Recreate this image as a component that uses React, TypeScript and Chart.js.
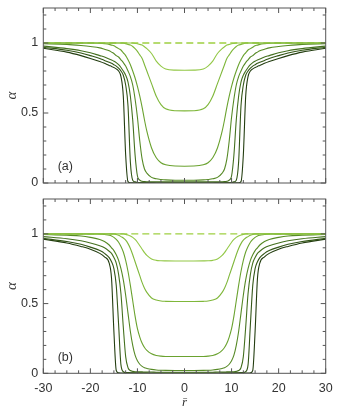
import React, { useEffect, useRef } from "react";
import { Chart, registerables } from "chart.js";
Chart.register(...registerables);

// half-profile radial grid (|r|), curves are symmetric in r
const R_HALF = [0, 2, 4, 5, 6, 7, 8, 8.5, 9, 9.5, 10, 10.5, 11, 11.5, 12, 12.5, 13, 13.5, 14, 14.5, 15, 15.5, 16, 17, 18, 20, 22, 25, 30];

// panel (a)
const A_C1 = [0.805, 0.806, 0.815, 0.835, 0.87, 0.925, 0.96, 0.973, 0.985, 0.99, 0.995, 0.997, 1, 1, 1, 1, 1, 1, 1, 1, 1, 1, 1, 1, 1, 1, 1, 1, 1];
const A_C2 = [0.515, 0.516, 0.53, 0.56, 0.62, 0.71, 0.8, 0.845, 0.89, 0.915, 0.94, 0.96, 0.975, 0.985, 0.99, 0.995, 1, 1, 1, 1, 1, 1, 1, 1, 1, 1, 1, 1, 1];
const A_C3 = [0.12, 0.121, 0.13, 0.145, 0.18, 0.25, 0.37, 0.45, 0.54, 0.62, 0.69, 0.75, 0.8, 0.845, 0.88, 0.91, 0.93, 0.95, 0.96, 0.97, 0.98, 0.985, 0.99, 0.995, 0.998, 1, 1, 1, 1];
const A_C4 = [0.02, 0.02, 0.022, 0.025, 0.03, 0.04, 0.07, 0.1, 0.17, 0.3, 0.47, 0.6, 0.7, 0.76, 0.8, 0.835, 0.86, 0.88, 0.9, 0.91, 0.925, 0.935, 0.945, 0.955, 0.965, 0.975, 0.982, 0.99, 0.995];
const A_C5 = [0.008, 0.008, 0.008, 0.008, 0.008, 0.009, 0.009, 0.01, 0.012, 0.02, 0.05, 0.2, 0.45, 0.62, 0.72, 0.77, 0.8, 0.825, 0.845, 0.86, 0.87, 0.878, 0.885, 0.9, 0.91, 0.93, 0.945, 0.96, 0.978];
const A_C6 = [0.002, 0.002, 0.002, 0.002, 0.002, 0.003, 0.003, 0.003, 0.003, 0.004, 0.004, 0.008, 0.02, 0.15, 0.55, 0.7, 0.77, 0.8, 0.82, 0.835, 0.845, 0.855, 0.862, 0.875, 0.89, 0.91, 0.928, 0.948, 0.97];
const A_C7 = [0, 0, 0, 0, 0, 0, 0, 0, 0, 0.001, 0.001, 0.001, 0.001, 0.002, 0.01, 0.2, 0.62, 0.76, 0.8, 0.815, 0.825, 0.833, 0.84, 0.855, 0.868, 0.89, 0.91, 0.935, 0.962];

// panel (b)
const B_C1 = [0.805, 0.805, 0.806, 0.807, 0.81, 0.82, 0.845, 0.865, 0.89, 0.915, 0.94, 0.96, 0.975, 0.985, 0.992, 0.996, 1, 1, 1, 1, 1, 1, 1, 1, 1, 1, 1, 1, 1];
const B_C2 = [0.515, 0.515, 0.516, 0.518, 0.525, 0.54, 0.58, 0.61, 0.65, 0.7, 0.75, 0.8, 0.85, 0.895, 0.93, 0.955, 0.97, 0.98, 0.99, 0.995, 1, 1, 1, 1, 1, 1, 1, 1, 1];
const B_C3 = [0.12, 0.12, 0.121, 0.123, 0.128, 0.14, 0.165, 0.185, 0.215, 0.26, 0.32, 0.41, 0.52, 0.63, 0.73, 0.81, 0.87, 0.91, 0.94, 0.96, 0.975, 0.985, 0.99, 0.995, 1, 1, 1, 1, 1];
const B_C4 = [0.02, 0.02, 0.021, 0.022, 0.024, 0.028, 0.035, 0.04, 0.05, 0.065, 0.09, 0.13, 0.2, 0.3, 0.43, 0.56, 0.67, 0.75, 0.81, 0.85, 0.88, 0.9, 0.92, 0.945, 0.96, 0.975, 0.985, 0.99, 0.995];
const B_C5 = [0.008, 0.008, 0.008, 0.008, 0.008, 0.009, 0.009, 0.009, 0.01, 0.01, 0.01, 0.011, 0.014, 0.02, 0.04, 0.12, 0.33, 0.57, 0.71, 0.79, 0.83, 0.86, 0.875, 0.9, 0.915, 0.935, 0.95, 0.965, 0.98];
const B_C6 = [0.002, 0.002, 0.002, 0.002, 0.002, 0.002, 0.003, 0.003, 0.003, 0.003, 0.003, 0.004, 0.004, 0.004, 0.005, 0.005, 0.012, 0.06, 0.35, 0.63, 0.75, 0.8, 0.83, 0.86, 0.88, 0.905, 0.925, 0.945, 0.968];
const B_C7 = [0, 0, 0, 0, 0, 0, 0, 0, 0, 0, 0, 0.001, 0.001, 0.001, 0.001, 0.001, 0.002, 0.002, 0.003, 0.02, 0.3, 0.68, 0.79, 0.835, 0.86, 0.89, 0.91, 0.935, 0.962];

const DASH_R = [-30, 30];
const DASH_ALPHA = [1, 1];

const CURVE_COLORS = ["#93c847", "#7fb73a", "#6aa22f", "#578a27", "#44701f", "#335617", "#233d10"];
const DASH_COLOR = "#9fd042";

const X_TICKS_MAJOR = 10;
const X_TICKS_MINOR = 2.5;
const Y_TICKS_MAJOR = 0.5;
const Y_TICKS_MINOR = 0.1;

const FONT = "'Liberation Sans', Arial, sans-serif";
const TEXT_COLOR = "#333";
const FRAME_COLOR = "#555";

function mirror(r: number[], v: number[]) {
  const pts: { x: number; y: number }[] = [];
  for (let i = r.length - 1; i > 0; i--) pts.push({ x: -r[i], y: v[i] });
  for (let i = 0; i < r.length; i++) pts.push({ x: r[i], y: v[i] });
  return pts;
}

const framePlugin = {
  id: "frameTicks",
  afterDatasetsDraw(chart: any, _args: any, opts: any) {
    const { ctx, chartArea, scales } = chart;
    const { left, right, top, bottom } = chartArea;
    const x = scales.x;
    const y = scales.y;
    ctx.save();
    ctx.strokeStyle = FRAME_COLOR;
    ctx.lineWidth = 1;
    ctx.beginPath();
    const nx = Math.round((x.max - x.min) / X_TICKS_MINOR);
    for (let i = 0; i <= nx; i++) {
      const v = x.min + i * X_TICKS_MINOR;
      const px = x.getPixelForValue(v);
      const L = Math.abs(v % X_TICKS_MAJOR) < 1e-6 ? 5 : 3;
      ctx.moveTo(px, bottom);
      ctx.lineTo(px, bottom - L);
      ctx.moveTo(px, top);
      ctx.lineTo(px, top + L);
    }
    const ny = Math.floor((y.max - y.min) / Y_TICKS_MINOR + 1e-6);
    for (let i = 0; i <= ny; i++) {
      const v = y.min + i * Y_TICKS_MINOR;
      const py = y.getPixelForValue(v);
      const r = v / Y_TICKS_MAJOR;
      const L = Math.abs(r - Math.round(r)) < 1e-6 ? 5 : 3;
      ctx.moveTo(left, py);
      ctx.lineTo(left + L, py);
      ctx.moveTo(right, py);
      ctx.lineTo(right - L, py);
    }
    ctx.stroke();
    ctx.strokeRect(left, top, right - left, bottom - top);
    if (opts && opts.label) {
      ctx.fillStyle = TEXT_COLOR;
      ctx.font = "12.5px " + FONT;
      ctx.textAlign = "center";
      ctx.textBaseline = "middle";
      ctx.fillText(opts.label, left + 22, bottom - 16);
    }
    ctx.restore();
  },
};

type PanelProps = {
  curves: number[][];
  label: string;
  showX: boolean;
  height: number;
  xHeight: number;
};

function Panel({ curves, label, showX, height, xHeight }: PanelProps) {
  const ref = useRef<HTMLCanvasElement>(null);
  useEffect(() => {
    if (!ref.current) return;
    const datasets: any[] = curves.map((c, i) => ({
      data: mirror(R_HALF, c),
      borderColor: CURVE_COLORS[i],
      borderWidth: 1.1,
      pointRadius: 0,
      fill: false,
      cubicInterpolationMode: "monotone",
    }));
    datasets.push({
      data: DASH_R.map((r, i) => ({ x: r, y: DASH_ALPHA[i] })),
      borderColor: DASH_COLOR,
      borderWidth: 1.3,
      borderDash: [7, 4],
      pointRadius: 0,
      fill: false,
    });
    const chart = new Chart(ref.current, {
      type: "line",
      data: { datasets },
      plugins: [framePlugin],
      options: {
        animation: false,
        responsive: false,
        devicePixelRatio: 1,
        layout: { padding: { left: 0, right: 13.3, top: 8, bottom: 0 } },
        plugins: {
          legend: { display: false },
          tooltip: { enabled: false },
          frameTicks: { label },
        } as any,
        scales: {
          x: {
            type: "linear",
            min: -30,
            max: 30,
            grid: { display: false, drawTicks: false },
            border: { display: false },
            ticks: {
              display: showX,
              stepSize: X_TICKS_MAJOR,
              padding: 8,
              color: TEXT_COLOR,
              font: { family: FONT, size: 12.5 },
              maxRotation: 0,
            },
            title: {
              display: showX,
              text: "r\u0304",
              color: TEXT_COLOR,
              font: { family: "'Liberation Serif', serif", size: 13, style: "italic" },
              padding: { top: 0, bottom: 5 },
            },
            afterFit: (s: any) => {
              s.height = xHeight;
              s.paddingLeft = 0;
              s.paddingRight = 0;
            },
          },
          y: {
            type: "linear",
            min: 0,
            max: 1.25,
            grid: { display: false, drawTicks: false },
            border: { display: false },
            ticks: {
              stepSize: Y_TICKS_MAJOR,
              padding: 5,
              color: TEXT_COLOR,
              font: { family: FONT, size: 12.5 },
              callback: (v: any) => (Math.abs(v - 1.25) < 1e-6 ? "" : String(v)),
            },
            title: {
              display: true,
              text: "\u03b1",
              color: TEXT_COLOR,
              font: { family: "'Liberation Serif', serif", size: 15, style: "italic" },
              padding: { top: 3, bottom: 0 },
            },
            afterFit: (s: any) => {
              s.width = 43.3;
              s.paddingTop = 0;
              s.paddingBottom = 0;
            },
          },
        },
      } as any,
    });
    return () => chart.destroy();
  }, [curves, label, showX, height, xHeight]);
  return <canvas ref={ref} width={339} height={height} style={{ display: "block" }} />;
}

const PANEL_A = [A_C1, A_C2, A_C3, A_C4, A_C5, A_C6, A_C7];
const PANEL_B = [B_C1, B_C2, B_C3, B_C4, B_C5, B_C6, B_C7];

export default function App() {
  useEffect(() => {
    document.body.style.margin = "0";
    document.body.style.background = "#fff";
  }, []);
  return (
    <div style={{ width: 339, height: 415, background: "#fff" }}>
      <Panel curves={PANEL_A} label="(a)" showX={false} height={191} xHeight={8} />
      <Panel curves={PANEL_B} label="(b)" showX={true} height={224} xHeight={41.7} />
    </div>
  );
}
